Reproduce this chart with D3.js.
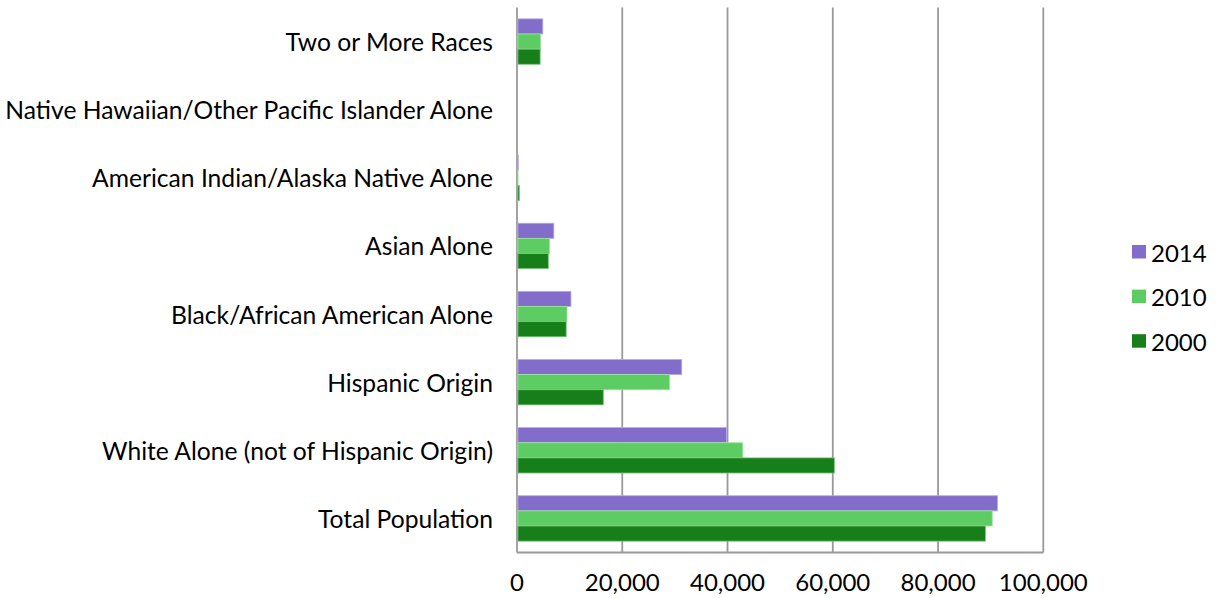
<!DOCTYPE html>
<html><head><meta charset="utf-8">
<script src="https://cdn.jsdelivr.net/npm/d3@7"></script>
<style>body{margin:0;background:#fff}svg{display:block}</style>
</head><body>
<svg id="c" width="1217" height="598"></svg>
<script>
const categories = ["Total Population","White Alone (not of Hispanic Origin)","Hispanic Origin","Black/African American Alone","Asian Alone","American Indian/Alaska Native Alone","Native Hawaiian/Other Pacific Islander Alone","Two or More Races"];
const seriesNames = ["2014","2010","2000"];
const values2014 = [91300, 39800, 31300, 10250, 7000, 250, 20, 4900];
const values2010 = [90300, 42900, 29000, 9500, 6200, 200, 20, 4500];
const values2000 = [89000, 60300, 16400, 9350, 5950, 450, 20, 4400];
const xTicks = [0, 20000, 40000, 60000, 80000, 100000];
const colors = ["#826dcb", "#5dcd63", "#177f1a"];
const strokes = ["#b8aae6", "#9fe3a3", "#7fc282"];

const svg = d3.select("#c");
const font = "Lato, 'DejaVu Sans', sans-serif";
const x = d3.scaleLinear().domain([0, 100000]).range([517, 1043.3]);
const y = d3.scaleBand().domain(categories.slice().reverse()).range([7.5, 552.5]).paddingInner(0).paddingOuter(0);
const seriesVals = {"2014": values2014, "2010": values2010, "2000": values2000};

// gridlines
svg.append("g").selectAll("line").data(xTicks).join("line")
  .attr("x1", d => x(d)).attr("x2", d => x(d))
  .attr("y1", 7.5).attr("y2", 552.5)
  .attr("stroke", "#999999").attr("stroke-width", 1.8);
// bottom axis line
svg.append("line").attr("x1", x(0)).attr("x2", x(100000)).attr("y1", 552.5).attr("y2", 552.5)
  .attr("stroke", "#999999").attr("stroke-width", 1.8);

// bars
const bandH = y.bandwidth();
const barH = bandH * (2/3) / 3;
seriesNames.forEach((s, si) => {
  svg.append("g").selectAll("rect").data(categories).join("rect")
    .attr("x", x(0) + 0.9)
    .attr("y", (c) => y(c) + bandH/6 + si*barH)
    .attr("width", (c, i) => Math.max(0, x(seriesVals[s][i]) - x(0) - 0.9))
    .attr("height", barH)
    .attr("fill", colors[si])
    .attr("stroke", strokes[si]).attr("stroke-width", 0.8);
});

// category labels
const labels = svg.append("g").selectAll("text").data(categories).join("text")
  .attr("x", 493).attr("y", c => y(c) + bandH/2)
  .attr("text-anchor", "end").attr("dominant-baseline", "central")
  .attr("font-family", font).attr("font-size", 20).attr("fill", "#000")
  .text(d => d);
let maxW = 0; labels.each(function(){ maxW = Math.max(maxW, this.getComputedTextLength()); });
const fs = 20 * 488 / maxW;
labels.attr("font-size", fs);

// x axis labels
svg.append("g").selectAll("text").data(xTicks).join("text")
  .attr("x", d => x(d)).attr("y", 591)
  .attr("text-anchor", "middle").attr("font-family", font).attr("font-size", 24).attr("fill", "#000")
  .text(d => d3.format(",")(d));

// legend
const lg = svg.append("g");
seriesNames.forEach((s, i) => {
  const yy = 245 + i*44.6;
  lg.append("rect").attr("x", 1132).attr("y", yy).attr("width", 14).attr("height", 13.5).attr("fill", colors[i]);
  lg.append("text").attr("x", 1151).attr("y", yy + 7).attr("dominant-baseline", "central")
    .attr("font-family", font).attr("font-size", 24).attr("fill", "#000").text(s);
});
</script>
</body></html>
